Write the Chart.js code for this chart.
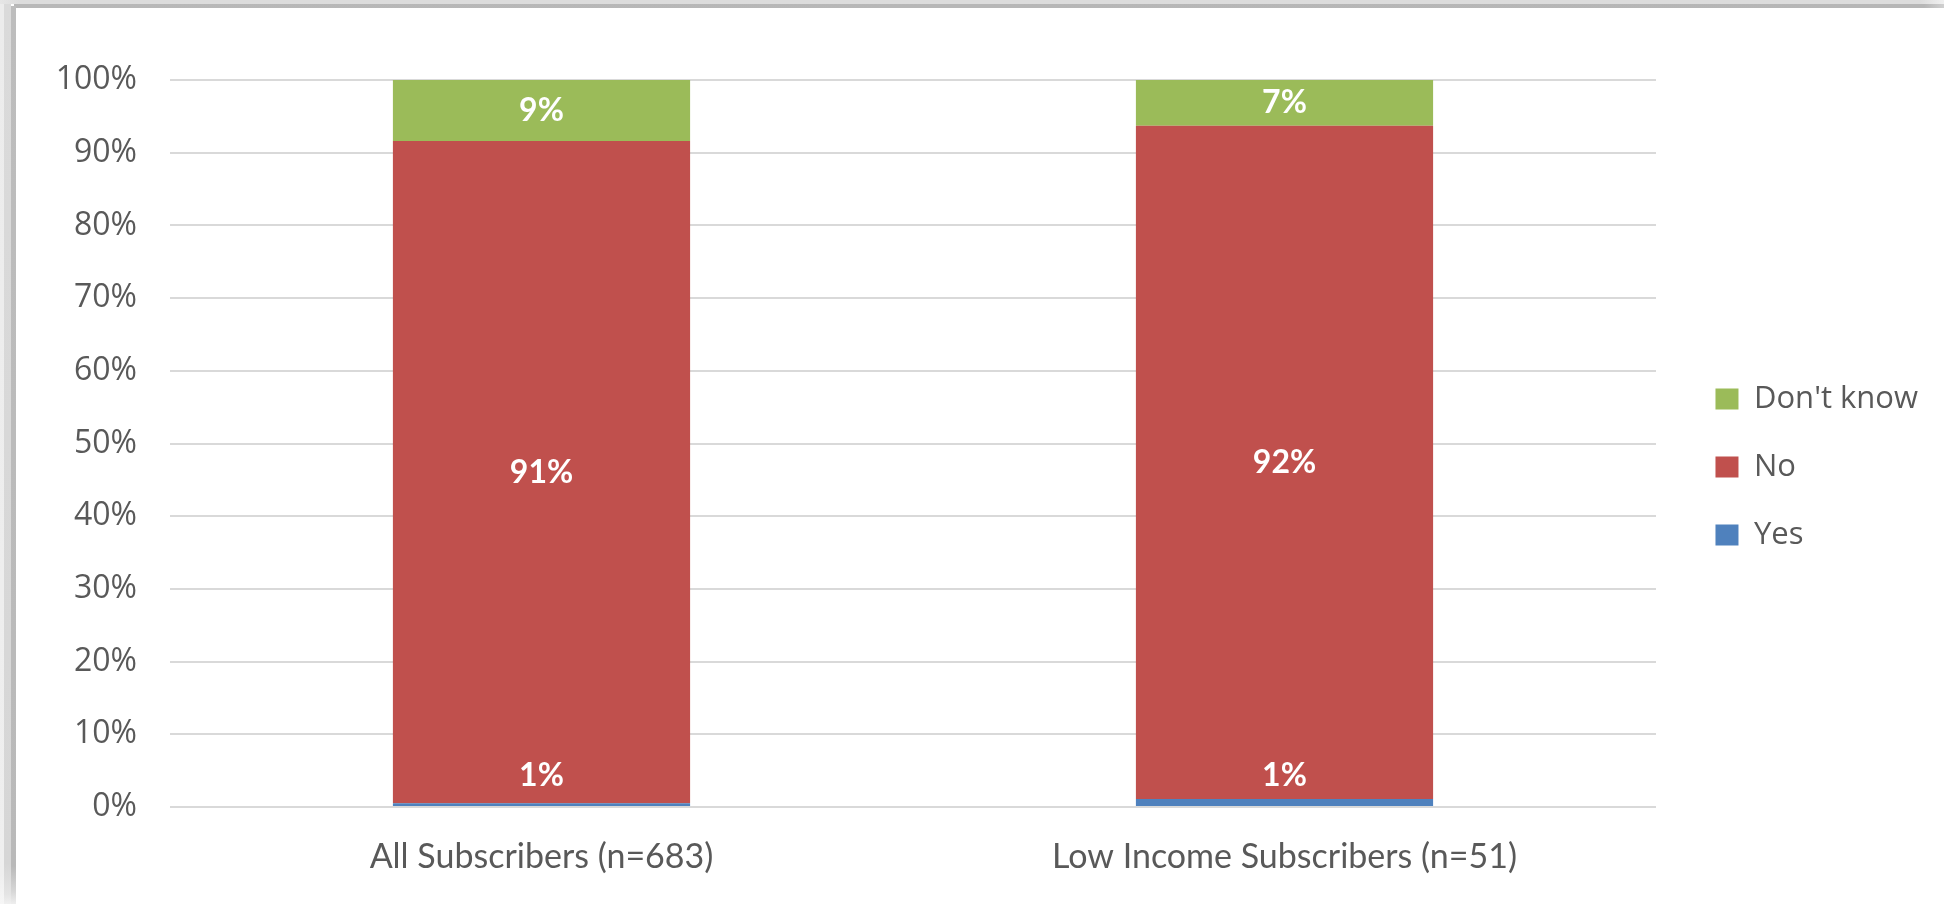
<!DOCTYPE html>
<html>
<head>
<meta charset="utf-8">
<script src="https://cdn.jsdelivr.net/npm/chart.js@4.4.1/dist/chart.umd.min.js"></script>
<style>
  html, body { margin: 0; padding: 0; background: #ffffff; }
  #wrap { position: relative; width: 1944px; height: 904px; overflow: hidden; background: #ffffff; }
  #c { position: absolute; left: 0; top: 0; }
  .f { position: absolute; }
</style>
</head>
<body>
<div id="wrap">
  <canvas id="c" width="1944" height="904"></canvas>
  <div class="f" style="left:0;top:0;width:1944px;height:4px;background:linear-gradient(to right,#e6e6e6 0,#dcdcdc 20px,#dcdcdc 1920px,#f0f0f0 1944px);"></div>
  <div class="f" style="left:14px;top:4px;width:1930px;height:4px;background:linear-gradient(to right,#b8b8b8 0,#b6b6b6 1910px,#d0d0d0 1930px,#eeeeee 1930px);"></div>
  <div class="f" style="left:0;top:4px;width:4px;height:900px;background:linear-gradient(to bottom,#ececec 0,#efefef 870px,#f6f6f6 900px);"></div>
  <div class="f" style="left:4px;top:4px;width:7px;height:900px;background:linear-gradient(to bottom,#dadada 0,#d6d6d6 860px,#e4e4e4 890px,#f0f0f0 900px);"></div>
  <div class="f" style="left:11px;top:6px;width:5px;height:898px;background:linear-gradient(to bottom,#bdbdbd 0,#b9b9b9 860px,#d6d6d6 885px,#eeeeee 898px);"></div>
</div>
<script>
const categories = ['All Subscribers (n=683)', 'Low Income Subscribers (n=51)'];
const yesValues = [0.5, 1.1];
const noValues = [91.1, 92.6];
const dontKnowValues = [8.4, 6.3];
const yesLabels = ['1%', '1%'];
const noLabels = ['91%', '92%'];
const dontKnowLabels = ['9%', '7%'];
const seriesNames = ['Yes', 'No', "Don't know"];
const yTickLabels = ['0%', '10%', '20%', '30%', '40%', '50%', '60%', '70%', '80%', '90%', '100%'];

const colors = ['#4F81BD', '#C0504D', '#9BBB59'];
const labelSets = [yesLabels, noLabels, dontKnowLabels];

const PLOT_RIGHT = 1656;
const PAD_RIGHT = 16;

const dataLabelPlugin = {
  id: 'dataLabels',
  afterDatasetsDraw(chart) {
    const ctx = chart.ctx;
    ctx.save();
    ctx.font = 'bold 32px Lato';
    ctx.fillStyle = '#ffffff';
    ctx.textAlign = 'center';
    ctx.textBaseline = 'middle';
    chart.data.datasets.forEach((ds, i) => {
      const meta = chart.getDatasetMeta(i);
      meta.data.forEach((el, j) => {
        const p = el.getProps(['x', 'y', 'base'], true);
        let y = (p.y + p.base) / 2;
        if (Math.abs(p.base - p.y) < 40) y = p.base - 30;
        ctx.fillText(labelSets[i][j], p.x, y);
      });
    });
    ctx.restore();
  }
};

new Chart(document.getElementById('c'), {
  type: 'bar',
  data: {
    labels: categories,
    datasets: [
      { label: seriesNames[0], data: yesValues, backgroundColor: colors[0], borderWidth: 0 },
      { label: seriesNames[1], data: noValues, backgroundColor: colors[1], borderWidth: 0 },
      { label: seriesNames[2], data: dontKnowValues, backgroundColor: colors[2], borderWidth: 0 }
    ]
  },
  options: {
    responsive: false,
    animation: false,
    devicePixelRatio: 1,
    datasets: { bar: { barPercentage: 0.4, categoryPercentage: 1.0 } },
    layout: { padding: { top: 52, bottom: 22, left: 20, right: PAD_RIGHT } },
    plugins: {
      tooltip: { enabled: false },
      legend: {
        position: 'right',
        reverse: true,
        labels: {
          boxWidth: 23,
          boxHeight: 21,
          padding: 37,
          color: '#595959',
          font: { family: 'Open Sans', size: 31 }
        }
      }
    },
    scales: {
      x: {
        stacked: true,
        grid: { display: false },
        border: { display: false },
        ticks: { color: '#595959', padding: 22, font: { family: 'Lato', size: 34 }, maxRotation: 0 },
        afterFit(s) { s.height = 75; }
      },
      y: {
        stacked: true,
        min: 0,
        max: 100,
        grid: { color: '#d9d9d9', lineWidth: 2, drawTicks: false },
        border: { display: false },
        ticks: {
          stepSize: 10,
          padding: 33,
          color: '#595959',
          font: { family: 'Open Sans', size: 32 },
          callback: (v) => yTickLabels[Math.round(v / 10)]
        },
        afterFit(s) { s.width = 150; }
      },
      spacerTop: {
        type: 'linear',
        axis: 'x',
        position: 'top',
        display: true,
        grid: { display: false, drawTicks: false },
        border: { display: false },
        ticks: { display: false },
        afterFit(s) { s.height = 28; }
      },
      spacer: {
        type: 'linear',
        axis: 'y',
        position: 'right',
        display: true,
        grid: { display: false, drawTicks: false },
        border: { display: false },
        ticks: { display: false },
        afterFit(s) {
          const lw = s.chart.legend ? s.chart.legend.width : 0;
          s.width = Math.max(0, s.chart.width - PAD_RIGHT - lw - PLOT_RIGHT);
        }
      }
    }
  },
  plugins: [dataLabelPlugin]
});
</script>
</body>
</html>
